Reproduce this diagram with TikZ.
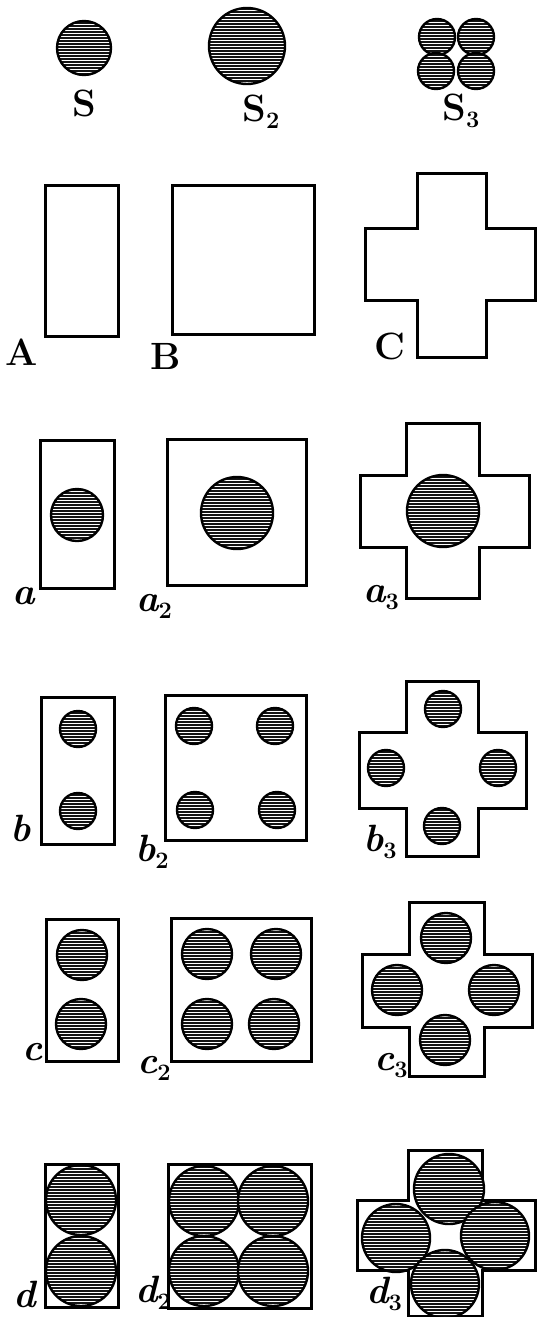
\documentclass[tikz,border=0pt]{standalone}
\usepackage{graphicx}
\tikzset{
  outline/.style={line width=3pt, line join=miter},
  lbl/.style={font=\fontsize{38}{38}\selectfont\bfseries, inner sep=0pt},
  ilbl/.style={font=\fontsize{38}{38}\selectfont\bfseries\itshape, inner sep=0pt}
}
\newcommand{\hdisc}[3]{%
  \begin{scope}
    \clip (#1,#2) circle (#3);
    \fill[black!92] (#1,#2) circle (#3);
    \foreach \k in {-13,...,13}
      \draw[white, line width=1.0pt] (#1-#3,#2+\k*3) -- (#1+#3,#2+\k*3);
  \end{scope}
  \draw[line width=2.4pt] (#1,#2) circle (#3);}
\newcommand{\crossfig}[8]{%
  \draw[outline, fill=white] (#2,#5) -- (#3,#5) -- (#3,#6) -- (#4,#6) -- (#4,#7) -- (#3,#7)
    -- (#3,#8) -- (#2,#8) -- (#2,#7) -- (#1,#7) -- (#1,#6) -- (#2,#6) -- cycle;}
\newcommand{\sub}[1]{\raisebox{-7pt}{\scalebox{0.62}{\upshape #1}}}
\begin{document}
\begin{tikzpicture}[x=1pt,y=-1pt]
\useasboundingbox[fill=white] (0,0) rectangle (537,1317);
% row 1
\hdisc{84}{48}{27}
\hdisc{247}{46}{38}
\hdisc{437}{37}{18}
\hdisc{476}{37}{18}
\hdisc{436}{71}{18}
\hdisc{476}{71}{18}
\node[lbl] (lS) at (84,103) {S};
\node[lbl] (lS2) at (261,112) {S\sub{2}};
\node[lbl] (lS3) at (461,111) {S\sub{3}};
% row 2
\draw[outline] (45,185) rectangle (118,336);
\draw[outline] (172,185) rectangle (314,334);
\crossfig{365}{417}{486}{535}{173}{228}{300}{357}
\node[lbl] (lA) at (22,352) {A};
\node[lbl] (lB) at (166,356) {B};
\node[lbl] (lC) at (390,346) {C};
% row 3
\draw[outline] (40,440) rectangle (114,588);
\hdisc{77}{515}{26}
\draw[outline] (167,439) rectangle (306,585);
\hdisc{237}{513}{36}
\crossfig{360}{406}{479}{529}{423}{475}{547}{598}
\hdisc{443}{511}{36}
\node[ilbl] (la) at (24,596) {a};
\node[ilbl] (la2) at (154,606) {a\sub{2}};
\node[ilbl] (la3) at (381,598) {a\sub{3}};
% row 4
\draw[outline] (41,697) rectangle (114,844);
\hdisc{78}{729}{18}
\hdisc{78}{811}{18}
\draw[outline] (165,695) rectangle (306,840);
\hdisc{194}{726}{18}
\hdisc{275}{726}{18}
\hdisc{195}{810}{18}
\hdisc{277}{810}{18}
\crossfig{359}{406}{478}{526}{681}{732}{808}{856}
\hdisc{443}{709}{18}
\hdisc{386}{768}{18}
\hdisc{498}{768}{18}
\hdisc{442}{826}{18}
\node[ilbl] (lb) at (21,828) {b};
\node[ilbl] (lb2) at (152,852) {b\sub{2}};
\node[ilbl] (lb3) at (380,842) {b\sub{3}};
% row 5
\draw[outline] (46,919) rectangle (118,1061);
\hdisc{82}{955}{25}
\hdisc{81}{1024}{25}
\draw[outline] (171,918) rectangle (311,1061);
\hdisc{207}{954}{25}
\hdisc{276}{954}{25}
\hdisc{207}{1024}{25}
\hdisc{274}{1024}{25}
\crossfig{362}{409}{484}{532}{902}{954}{1027}{1076}
\hdisc{446}{938}{25}
\hdisc{397}{990}{25}
\hdisc{494}{990}{25}
\hdisc{445}{1040}{25}
\node[ilbl] (lc) at (33,1052) {c};
\node[ilbl] (lc2) at (154,1068) {c\sub{2}};
\node[ilbl] (lc3) at (391,1066) {c\sub{3}};
% row 6
\draw[outline] (45,1164) rectangle (118,1307);
\hdisc{81}{1200}{35}
\hdisc{81}{1271}{35}
\draw[outline] (168,1164) rectangle (311,1308);
\hdisc{204}{1201}{35}
\hdisc{273}{1201}{35}
\hdisc{204}{1271}{35}
\hdisc{273}{1271}{35}
\crossfig{357}{408}{482}{535}{1150}{1200}{1270}{1316}
\hdisc{449}{1189}{35}
\hdisc{396}{1238}{34}
\hdisc{495}{1236}{34}
\hdisc{445}{1284}{34}
\node[ilbl] (ld) at (25,1294) {d};
\node[ilbl] (ld2) at (153,1293) {d\sub{2}};
\node[ilbl] (ld3) at (384,1294) {d\sub{3}};
\end{tikzpicture}
\end{document}
